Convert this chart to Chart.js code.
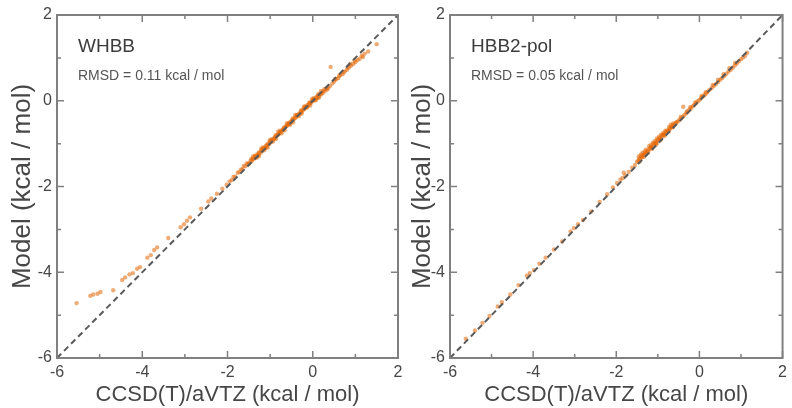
<!DOCTYPE html>
<html><head><meta charset="utf-8">
<script src="https://cdn.jsdelivr.net/npm/chart.js@4/dist/chart.umd.min.js"></script>
<style>
html,body{margin:0;padding:0;background:#fff;}
#wrap{position:relative;width:792px;height:408px;overflow:hidden;background:#fff;}
#c1{position:absolute;left:0;top:0;width:412px;height:408px;}
#c2{position:absolute;left:400px;top:0;width:392px;height:408px;}
</style></head><body>
<div id="wrap">
<canvas id="c1" width="412" height="408"></canvas>
<canvas id="c2" width="392" height="408"></canvas>
</div>
<script>
// ---- data (x = CCSD(T)/aVTZ, y = model), kcal/mol ----
const axisTicks = [-6, -4, -2, 0, 2];
const xTitle = 'CCSD(T)/aVTZ (kcal / mol)';
const yTitle = 'Model (kcal / mol)';
const panelNames = ['WHBB', 'HBB2-pol'];
const panelRmsd = ['RMSD = 0.11 kcal / mol', 'RMSD = 0.05 kcal / mol'];
const diagonal = [[-6, -6], [2, 2]];

const whbbData = [
  [-5.54,-4.72],[-5.22,-4.55],[-5.15,-4.52],[-5.05,-4.50],[-4.98,-4.46],[-4.68,-4.42],
  [-4.47,-4.18],[-4.40,-4.12],[-4.30,-4.05],[-4.22,-4.02],[-4.12,-3.92],[-4.05,-3.88],
  [-3.88,-3.66],[-3.80,-3.60],[-3.72,-3.48],[-3.65,-3.42],[-3.39,-3.20],[-3.10,-2.95],
  [-3.02,-2.88],[-2.95,-2.80],[-2.88,-2.72],[-2.62,-2.52],[-2.45,-2.35],[-2.38,-2.28],
  [-2.25,-2.17],[-2.12,-2.05],[-2.02,-1.96],[-1.90,-1.85],[-1.82,-1.77],[-1.72,-1.66],
  [-1.65,-1.60],[-1.58,-1.53],
  [-1.52,-1.47],[-1.49,-1.46],[-1.46,-1.40],[-1.43,-1.41],[-1.41,-1.36],[-1.38,-1.35],
  [-1.35,-1.30],[-1.33,-1.31],[-1.30,-1.25],[-1.28,-1.27],[-1.25,-1.20],[-1.22,-1.21],
  [-1.20,-1.15],[-1.18,-1.17],[-1.15,-1.10],[-1.12,-1.11],[-1.10,-1.05],[-1.08,-1.07],
  [-1.05,-1.00],[-1.02,-1.01],[-1.00,-0.95],[-0.98,-0.96],[-0.95,-0.91],[-0.92,-0.90],
  [-0.90,-0.86],[-0.88,-0.85],[-0.85,-0.82],[-0.82,-0.79],[-0.80,-0.78],[-0.78,-0.74],
  [-0.75,-0.73],[-0.72,-0.69],[-0.70,-0.68],[-0.68,-0.64],[-0.65,-0.63],[-0.62,-0.59],
  [-0.60,-0.58],[-0.58,-0.55],[-0.55,-0.54],[-0.52,-0.49],[-0.50,-0.49],[-0.48,-0.45],
  [-0.45,-0.44],[-0.42,-0.40],[-0.40,-0.39],[-0.38,-0.35],[-0.35,-0.34],[-0.32,-0.30],
  [-0.30,-0.30],[-0.28,-0.25],[-0.25,-0.25],[-0.22,-0.20],[-0.20,-0.20],[-0.18,-0.15],
  [-0.15,-0.15],[-0.12,-0.10],[-0.10,-0.10],[-0.08,-0.05],[-0.05,-0.06],[-0.02,0.00],
  [0.00,-0.01],[0.02,0.03],[0.05,0.02],[0.08,0.08],[0.10,0.06],[0.12,0.12],[0.15,0.10],
  [0.18,0.16],[0.20,0.15],[0.24,0.22],[0.28,0.22],[0.32,0.28],[0.36,0.30],[0.40,0.34],
  [-1.44,-1.36],[-1.36,-1.28],[-1.27,-1.22],[-1.17,-1.09],[-1.07,-1.03],[-0.97,-0.90],
  [-0.87,-0.80],[-0.77,-0.70],[-0.67,-0.62],[-0.57,-0.52],[-0.47,-0.41],[-0.37,-0.33],
  [-0.27,-0.22],[-0.17,-0.13],[-0.07,-0.04],[0.03,0.06],[0.13,0.15],[0.23,0.18],
  [-1.31,-1.33],[-1.13,-1.15],[-0.93,-0.95],[-0.73,-0.76],[-0.53,-0.56],[-0.33,-0.36],
  [-0.13,-0.16],[0.07,0.01],[0.27,0.27],
  [-1.40,-1.30],[-1.21,-1.12],[-1.01,-0.92],[-0.81,-0.72],[-0.61,-0.53],[-0.41,-0.33],
  [-0.21,-0.14],[-0.01,0.05],[0.19,0.22],[-1.26,-1.29],[-1.06,-1.09],[-0.86,-0.89],
  [-0.66,-0.69],[-0.46,-0.50],[-0.26,-0.30],[-0.06,-0.11],[0.14,0.07],[0.34,0.26],
  [-1.55,-1.46],[-1.62,-1.52],[-1.68,-1.60],[-1.76,-1.68],[-1.86,-1.78],[-1.95,-1.88],
  [0.42,0.79],[0.46,0.40],[0.50,0.45],[0.55,0.50],[0.60,0.53],[0.65,0.60],[0.70,0.62],
  [0.75,0.68],[0.80,0.72],[0.85,0.78],[0.88,0.86],[0.90,0.82],[0.95,0.86],[1.00,0.90],
  [1.05,0.95],[1.10,0.98],[1.15,1.05],[1.18,1.02],[1.22,1.10],[1.30,1.15],[1.50,1.32],
  [0.52,0.50],[0.62,0.58],[0.72,0.67],[0.82,0.77],[0.98,0.94]
];

const hbb2polData = [
  [-5.62,-5.55],[-5.40,-5.36],[-5.22,-5.18],[-5.05,-5.02],[-4.85,-4.80],[-4.75,-4.70],
  [-4.55,-4.52],[-4.35,-4.30],[-4.15,-4.08],[-4.08,-4.02],[-3.98,-3.95],[-3.85,-3.80],
  [-3.70,-3.66],[-3.50,-3.47],[-3.30,-3.28],[-3.10,-3.05],[-3.02,-2.97],[-2.92,-2.88],
  [-2.80,-2.78],[-2.60,-2.58],[-2.40,-2.36],[-2.22,-2.18],[-2.08,-2.02],[-1.98,-1.92],
  [-1.90,-1.84],[-1.85,-1.80],[-1.82,-1.68],[-1.78,-1.74],[-1.70,-1.66],[-1.62,-1.56],
  [-1.55,-1.50],
  [-1.50,-1.42],[-1.47,-1.40],[-1.45,-1.35],[-1.42,-1.36],[-1.40,-1.30],[-1.38,-1.32],
  [-1.35,-1.27],[-1.33,-1.25],[-1.30,-1.22],[-1.28,-1.24],[-1.25,-1.16],[-1.23,-1.18],
  [-1.20,-1.12],[-1.18,-1.10],[-1.15,-1.07],[-1.13,-1.09],[-1.10,-1.02],[-1.08,-1.00],
  [-1.05,-0.97],[-1.03,-0.99],[-1.00,-0.92],[-0.98,-0.90],[-0.95,-0.87],[-0.93,-0.89],
  [-0.90,-0.82],[-0.88,-0.80],[-0.85,-0.78],[-0.83,-0.79],[-0.80,-0.73],[-0.78,-0.70],
  [-0.75,-0.69],[-0.72,-0.66],[-0.70,-0.64],[-0.67,-0.62],[-0.65,-0.59],[-0.62,-0.57],
  [-0.60,-0.55],[-0.57,-0.52],[-0.55,-0.50],[-0.52,-0.48],
  [-1.44,-1.42],[-1.34,-1.31],[-1.24,-1.21],[-1.14,-1.12],[-1.04,-1.02],[-0.94,-0.92],
  [-0.84,-0.82],[-0.74,-0.72],[-0.64,-0.62],
  [-1.46,-1.30],[-1.37,-1.22],[-1.29,-1.14],[-1.21,-1.06],[-1.12,-0.98],[-1.02,-0.88],
  [-0.92,-0.79],[-0.82,-0.70],[-0.73,-0.61],[-0.63,-0.53],
  [-1.41,-1.26],[-1.32,-1.19],[-1.17,-1.03],[-1.07,-0.94],[-0.97,-0.84],[-0.87,-0.75],
  [-0.69,-0.56],[-0.39,-0.14],
  [-0.48,-0.45],[-0.44,-0.41],[-0.40,-0.37],[-0.36,-0.33],[-0.32,-0.29],[-0.28,-0.25],
  [-0.24,-0.21],[-0.20,-0.17],[-0.16,-0.13],[-0.12,-0.09],[-0.08,-0.05],[-0.04,-0.01],
  [0.00,0.02],[0.04,0.06],[0.08,0.10],[0.12,0.13],[0.16,0.17],[0.20,0.21],[0.25,0.26],
  [0.30,0.30],[0.35,0.35],[0.40,0.39],[0.45,0.44],[0.50,0.49],[0.55,0.53],[0.60,0.58],
  [0.65,0.63],[0.70,0.68],[0.75,0.72],[0.80,0.77],[0.85,0.82],[0.90,0.87],[0.95,0.92],
  [1.00,0.97],[1.05,1.01],[1.10,1.05],[1.15,1.12],
  [-0.30,-0.25],[-0.10,-0.04],[0.15,0.20],[0.45,0.49],[0.72,0.76],
  [-0.45,-0.38],[-0.22,-0.15],[0.05,0.11],[0.32,0.37],[0.58,0.62],[0.86,0.88]
];

// ---- drawing ----
const FONT = '"Liberation Sans", Arial, Helvetica, sans-serif';
const TEXT = '#474747';
const FRAME = '#808080';

const framePlugin = {
  id: 'frameTicks',
  afterDatasetsDraw(chart, args, opts) {
    const {ctx, chartArea: a, scales: {x, y}} = chart;
    ctx.save();
    ctx.strokeStyle = FRAME;
    ctx.lineWidth = 1.5;
    for (let v = -6; v <= 2; v += 1) {
      const len = (v % 2 === 0) ? 7 : 4;
      const px = x.getPixelForValue(v);
      const py = y.getPixelForValue(v);
      ctx.beginPath();
      ctx.moveTo(px, a.bottom); ctx.lineTo(px, a.bottom - len);
      ctx.moveTo(px, a.top); ctx.lineTo(px, a.top + len);
      ctx.moveTo(a.left, py); ctx.lineTo(a.left + len, py);
      ctx.moveTo(a.right, py); ctx.lineTo(a.right - len, py);
      ctx.stroke();
    }
    ctx.lineWidth = 2;
    ctx.strokeRect(a.left, a.top, a.right - a.left, a.bottom - a.top);
    ctx.fillStyle = '#3c3c3c';
    ctx.textAlign = 'left';
    ctx.textBaseline = 'alphabetic';
    ctx.font = '19px ' + FONT;
    ctx.fillText(opts.name, a.left + 21, a.top + 37);
    ctx.fillStyle = '#555';
    ctx.font = '14px ' + FONT;
    ctx.fillText(opts.rmsd, a.left + 21, a.top + 65);
    ctx.restore();
  }
};

function makeChart(id, data, idx, yWidth, rightPad) {
  return new Chart(document.getElementById(id), {
    type: 'scatter',
    data: {
      datasets: [
        {
          type: 'line',
          data: diagonal.map(p => ({x: p[0], y: p[1]})),
          borderColor: '#595959',
          borderWidth: 2,
          borderDash: [6, 4],
          pointRadius: 0,
          fill: false,
          order: 0
        },
        {
          data: data.map(p => ({x: p[0], y: p[1]})),
          backgroundColor: 'rgba(228,104,8,0.55)',
          borderWidth: 0,
          pointRadius: 2.2,
          order: 1
        }
      ]
    },
    options: {
      responsive: false,
      animation: false,
      events: [],
      layout: {padding: {top: 15, right: rightPad, left: 0, bottom: 0}},
      plugins: {legend: {display: false}, tooltip: {enabled: false},
                frameTicks: {name: panelNames[idx], rmsd: panelRmsd[idx]}},
      scales: {
        x: {
          type: 'linear', min: -6, max: 2,
          afterBuildTicks: s => { s.ticks = axisTicks.map(v => ({value: v})); },
          afterFit: s => { s.height = 50; },
          grid: {display: false, drawTicks: false},
          border: {display: false},
          ticks: {padding: 5, color: TEXT, font: {family: FONT, size: 16}, maxRotation: 0},
          title: {display: true, text: xTitle, color: TEXT, font: {family: FONT, size: 22}, padding: 0}
        },
        y: {
          type: 'linear', min: -6, max: 2,
          afterBuildTicks: s => { s.ticks = axisTicks.map(v => ({value: v})); },
          afterFit: s => { s.width = yWidth; },
          grid: {display: false, drawTicks: false},
          border: {display: false},
          ticks: {padding: 5, color: TEXT, font: {family: FONT, size: 16}},
          title: {display: true, text: yTitle, color: TEXT, font: {family: FONT, size: 26}, padding: {top: 7, bottom: 0}}
        }
      }
    },
    plugins: [framePlugin]
  });
}

makeChart('c1', whbbData, 0, 57, 14);
makeChart('c2', hbb2polData, 1, 50, 1);
</script>
</body></html>
